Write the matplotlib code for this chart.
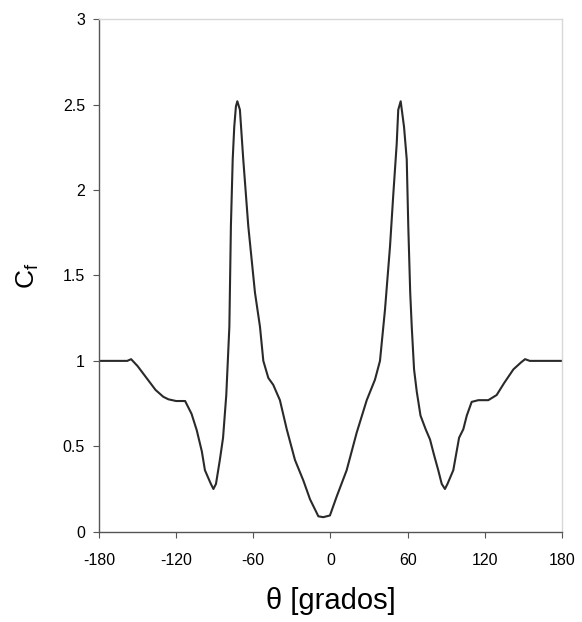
import matplotlib
matplotlib.use("Agg")
import matplotlib.pyplot as plt

# pressure/friction coefficient vs angle
theta = [-180, -165, -158, -155, -150, -143, -136, -130, -126, -120, -113,
         -108, -104, -100, -97.6, -93, -91, -89, -86, -83.5, -81, -78.6,
         -77.4, -76, -74.8, -73.5, -72.4, -70.4, -67.8, -63.9, -58.7, -54.8,
         -52.2, -48.3, -44.5, -39.3, -34.0, -27.6, -21.1, -15.9, -9.4, -5.6,
         -0.4, 4.8, 12.6, 20.4, 28.2, 34.6, 38.5, 42.4, 46.3, 48.9, 51.5,
         52.7, 54.6, 57.2, 59.3, 60.5, 62, 63.2, 65, 67.1, 70, 74, 77.4,
         80.5, 83.8, 86.5, 89, 91, 95.5, 100, 103.3, 106, 109.8, 115, 122.7,
         129.2, 135, 142.2, 148, 151.3, 155, 180]
cf = [1.0, 1.0, 1.0, 1.01, 0.97, 0.9, 0.83, 0.79, 0.775, 0.765, 0.765,
      0.69, 0.595, 0.47, 0.36, 0.28, 0.25, 0.28, 0.42, 0.55, 0.8, 1.2,
      1.79, 2.18, 2.37, 2.49, 2.52, 2.47, 2.18, 1.79, 1.40, 1.20,
      1.0, 0.90, 0.86, 0.77, 0.60, 0.42, 0.30, 0.19, 0.09, 0.085,
      0.095, 0.205, 0.36, 0.58, 0.77, 0.89, 1.0, 1.30, 1.67, 1.98, 2.27,
      2.47, 2.52, 2.37, 2.18, 1.79, 1.4, 1.2, 0.95, 0.82, 0.68, 0.6, 0.54,
      0.45, 0.36, 0.28, 0.25, 0.28, 0.36, 0.55, 0.6, 0.68, 0.76, 0.77, 0.77,
      0.80, 0.87, 0.95, 0.99, 1.01, 1.0, 1.0]

xticks = [-180, -120, -60, 0, 60, 120, 180]
yticks = [0, 0.5, 1, 1.5, 2, 2.5, 3]
ytick_labels = ["0", "0.5", "1", "1.5", "2", "2.5", "3"]

plt.rcParams['font.family'] = ['Liberation Sans', 'DejaVu Sans']

fig = plt.figure(figsize=(5.82, 6.22), dpi=100)
ax = fig.add_axes([0.170, 0.1452, 0.7956, 0.8238])

ax.plot(theta, cf, color='#2a2a2a', lw=1.5)

ax.set_xlim(-180, 180)
ax.set_ylim(0, 3)
ax.set_xticks(xticks)
ax.set_xticklabels([str(t) for t in xticks])
ax.set_yticks(yticks)
ax.set_yticklabels(ytick_labels)
ax.tick_params(labelsize=11.5, length=4, width=0.8, color='#555555', pad=6)
ax.tick_params(axis='x', pad=11)

for side in ['left', 'bottom']:
    ax.spines[side].set_color('#555555')
    ax.spines[side].set_linewidth(1.0)
for side in ['top', 'right']:
    ax.spines[side].set_color('#d8d8d8')
    ax.spines[side].set_linewidth(1.0)

ax.set_xlabel('θ [grados]', fontsize=21, labelpad=14)
ax.set_ylabel(r'C$_\mathregular{f}$', fontsize=19, labelpad=16)

fig.savefig('out.png', dpi=100)
